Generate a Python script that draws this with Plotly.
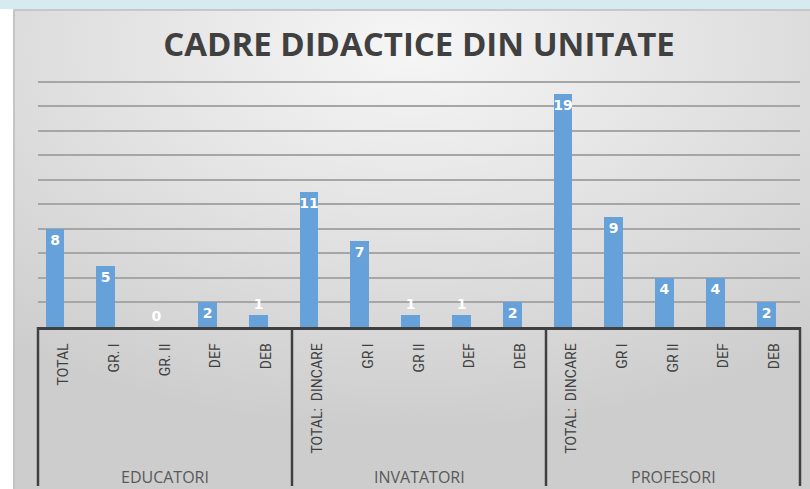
"""Cadre didactice din unitate - bar chart grouped by category."""

import base64
import plotly.graph_objects as go

groups = ['EDUCATORI', 'INVATATORI', 'PROFESORI']
categories = [
  ['TOTAL', 'GR. I', 'GR. II', 'DEF', 'DEB'],
  ['TOTAL:  DINCARE', 'GR I', 'GR II', 'DEF', 'DEB'],
  ['TOTAL:  DINCARE', 'GR I', 'GR II', 'DEF', 'DEB'],
]
values = [
  [8, 5, 0, 2, 1],
  [11, 7, 1, 1, 2],
  [19, 9, 4, 4, 2],
]
y_ticks = [0, 2, 4, 6, 8, 10, 12, 14, 16, 18, 20]

W, H = 810, 489
ml, mr, mt, mb = 38, 10, 77, 162
pw = W - ml - mr
ph = H - mt - mb

# flatten
labels = [c for cats in categories for c in cats]
vals = [v for vs in values for v in vs]
xs = list(range(len(vals)))

# background slide (gradient panel + blue strip)
svg = f"""<svg xmlns='http://www.w3.org/2000/svg' width='{W}' height='{H}'>
<defs><radialGradient id='g' cx='0.5' cy='0.08' r='0.8'>
<stop offset='0' stop-color='#f6f6f6'/><stop offset='1' stop-color='#cdcdcd'/></radialGradient></defs>
<rect width='{W}' height='{H}' fill='#ffffff'/>
<rect x='0' y='0' width='{W}' height='9' fill='#d5eaf1'/>
<rect x='13' y='9' width='{W - 13}' height='{H - 9}' fill='url(#g)'/>
<rect x='13' y='9' width='2' height='{H - 9}' fill='#c4c4c4'/>
<rect x='13' y='9' width='{W - 13}' height='2' fill='#c8c8c8'/>
</svg>"""
bg_src = "data:image/svg+xml;base64," + base64.b64encode(svg.encode()).decode()

fig = go.Figure()
fig.add_trace(go.Bar(
  x=xs,
  y=vals,
  width=0.37,
  offset=-0.35,
  marker=dict(color='#66a1d9', line=dict(width=0)),
  text=[str(v) for v in vals],
  textposition=['inside' if v >= 2 else 'outside' for v in vals],
  insidetextanchor='end',
  constraintext='none',
  textangle=0,
  textfont=dict(family='DejaVu Sans', size=14, color='white', weight='bold'),
  outsidetextfont=dict(family='DejaVu Sans', size=14, color='white', weight='bold'),
  cliponaxis=False,
  hoverinfo='skip',
))

# group labels + dividers
shapes = []
annotations = []
n = len(vals)
edges = [0]
for g, cats in zip(groups, categories):
  start = edges[-1]
  end = start + len(cats)
  annotations.append(dict(
    x=(start + end - 1) / 2, xref='x',
    y=-150 / ph, yref='paper',
    text=g, showarrow=False, yanchor='middle',
    font=dict(family='Open Sans', size=16, color='#595959'),
  ))
  edges.append(end)
for e in edges:
  shapes.append(dict(
    type='line', xref='paper', yref='paper',
    x0=e / n, x1=e / n, y0=0, y1=-159 / ph,
    line=dict(color='#404040', width=2.5),
  ))

fig.update_layout(
  width=W,
  height=H,
  autosize=False,
  margin=dict(l=ml, r=mr, t=mt, b=mb, pad=0),
  paper_bgcolor='white',
  plot_bgcolor='rgba(0,0,0,0)',
  showlegend=False,
  bargap=0,
  title=dict(
    text='CADRE DIDACTICE DIN UNITATE',
    x=0.5, xref='paper',
    y=1 - 44 / H, yref='container', yanchor='middle',
    font=dict(family='Open Sans', size=33, color='#404040', weight='bold'),
  ),
  images=[dict(
    source=bg_src, xref='paper', yref='paper',
    x=-ml / pw, y=(ph + mt) / ph, sizex=W / pw, sizey=H / ph,
    xanchor='left', yanchor='top', sizing='stretch', layer='below',
  )],
  shapes=shapes,
  annotations=annotations,
)
fig.update_xaxes(
  range=[-0.5, n - 0.5],
  tickmode='array',
  tickvals=xs,
  ticktext=labels,
  tickangle=-90,
  ticks='',
  ticklabelstandoff=8,
  tickfont=dict(family='Roboto', size=14, color='#404040'),
  showgrid=False,
  showline=True,
  linecolor='#404040',
  linewidth=2.5,
  zeroline=False,
)
fig.update_yaxes(
  range=[0, 20.4],
  tickmode='array',
  tickvals=y_ticks,
  showticklabels=False,
  showgrid=True,
  gridcolor='#a6a6a6',
  gridwidth=1.5,
  zeroline=False,
)

fig.write_html("out.html", config={'displayModeBar': False},
               post_script="document.body.style.margin='0px';")
